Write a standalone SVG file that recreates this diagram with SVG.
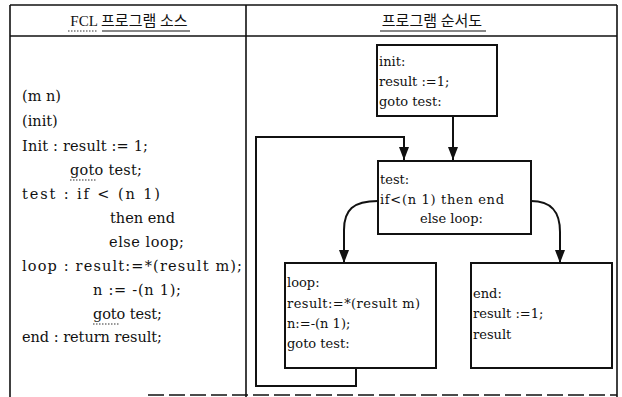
<svg xmlns="http://www.w3.org/2000/svg" width="622" height="397" viewBox="0 0 622 397">
<style>
.frame{stroke:#111;stroke-width:1.6;fill:none}
.box{stroke:#111;stroke-width:2;fill:#fff}
.conn{stroke:#111;stroke-width:2;fill:none}
.hdr{font-family:"Liberation Serif","Noto Sans CJK KR",serif;font-size:15px;fill:#111}
.code{font-family:"DejaVu Serif","Liberation Serif",serif;font-size:14.5px;fill:#111}
.fc{font-family:"DejaVu Serif","Liberation Serif",serif;font-size:13px;fill:#111}
.ul{stroke:#111;stroke-width:1.2}
.dot{stroke:#333;stroke-width:1.2;stroke-dasharray:1.5 1.5}
</style>
<defs>
<marker id="arr" markerWidth="13" markerHeight="10" refX="13" refY="5" orient="auto" markerUnits="userSpaceOnUse" viewBox="0 0 13 10">
<path d="M0,0 L13,5 L0,10 Z" fill="#111"/>
</marker>
</defs>
<rect width="622" height="397" fill="#fff"/>
<g id="table">
<line class="frame" x1="10" y1="5" x2="617" y2="5"/>
<line class="frame" x1="10" y1="36" x2="617" y2="36"/>
<line class="frame" x1="10" y1="5" x2="10" y2="397"/>
<line class="frame" x1="246" y1="5" x2="246" y2="397"/>
<line class="frame" x1="617" y1="5" x2="617" y2="397"/>
<line class="frame" x1="148" y1="395" x2="617" y2="395" stroke-dasharray="16 5"/>
</g>
<g id="header-left">
<text class="hdr" x="129" y="26" text-anchor="middle">FCL 프로그램 소스</text>
<line class="dot" x1="68" y1="31" x2="97" y2="31"/>
<line class="ul" x1="102" y1="31" x2="190" y2="31"/>
</g>
<g id="header-right">
<text class="hdr" x="432" y="26" text-anchor="middle">프로그램 순서도</text>
<line class="ul" x1="380" y1="31" x2="486" y2="31"/>
</g>
<g id="source-code">
<text class="code" x="22" y="101">(m n)</text>
<text class="code" x="22" y="126">(init)</text>
<text class="code" x="22" y="151" textLength="126" lengthAdjust="spacing">Init : result := 1;</text>
<text class="code" x="70" y="175" textLength="72" lengthAdjust="spacing">goto test;</text>
<line class="dot" x1="70" y1="180" x2="97" y2="180"/>
<text class="code" x="22" y="199" textLength="138" lengthAdjust="spacing">test : if &lt; (n 1)</text>
<text class="code" x="110" y="223" textLength="65" lengthAdjust="spacing">then end</text>
<text class="code" x="109" y="247" textLength="75" lengthAdjust="spacing">else loop;</text>
<text class="code" x="22" y="271" textLength="220" lengthAdjust="spacing">loop : result:=*(result m);</text>
<text class="code" x="93" y="295" textLength="88" lengthAdjust="spacing">n := -(n 1);</text>
<text class="code" x="93" y="319" textLength="69" lengthAdjust="spacing">goto test;</text>
<line class="dot" x1="93" y1="324" x2="120" y2="324"/>
<text class="code" x="22" y="342" textLength="140" lengthAdjust="spacing">end : return result;</text>
</g>
<g id="connectors">
<path class="conn" d="M453,116 L453,160" marker-end="url(#arr)"/>
<path class="conn" d="M356,368 L356,386 L256,386 L256,137 L404,137 L404,160" marker-end="url(#arr)"/>
<path class="conn" d="M378,201 C353,201 344,210 344,230 L344,263" marker-end="url(#arr)"/>
<path class="conn" d="M531,201 C552,201 560,212 560,232 L560,263" marker-end="url(#arr)"/>
</g>
<g id="node-init">
<rect class="box" x="377" y="45" width="120" height="71"/>
<text class="fc" x="379" y="66">init:</text>
<text class="fc" x="379" y="86">result :=1;</text>
<text class="fc" x="379" y="106">goto test:</text>
</g>
<g id="node-test">
<rect class="box" x="378" y="161" width="153" height="73"/>
<text class="fc" x="380" y="184">test:</text>
<text class="fc" x="380" y="204" textLength="124" lengthAdjust="spacing">if&lt;(n 1) then end</text>
<text class="fc" x="420" y="223">else loop:</text>
</g>
<g id="node-loop">
<rect class="box" x="285" y="263" width="151" height="105"/>
<text class="fc" x="287" y="287">loop:</text>
<text class="fc" x="287" y="308" textLength="133" lengthAdjust="spacing">result:=*(result m)</text>
<text class="fc" x="287" y="328">n:=-(n 1);</text>
<text class="fc" x="287" y="348">goto test:</text>
</g>
<g id="node-end">
<rect class="box" x="471" y="263" width="141" height="105"/>
<text class="fc" x="473" y="298">end:</text>
<text class="fc" x="473" y="318">result :=1;</text>
<text class="fc" x="473" y="339">result</text>
</g>
</svg>
